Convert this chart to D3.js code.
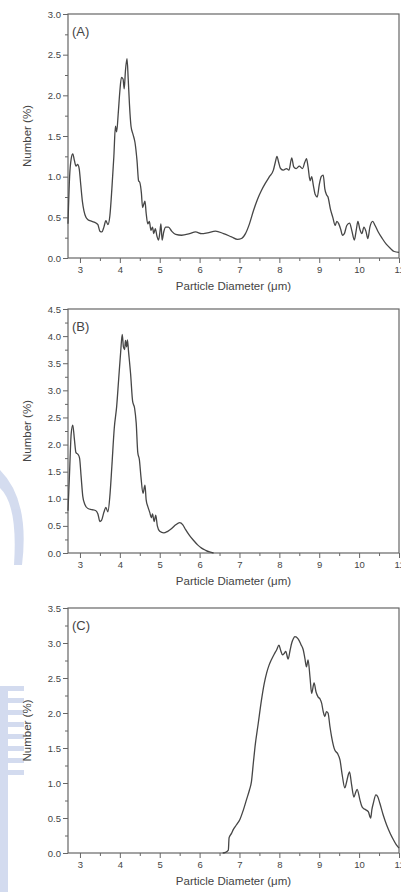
<!DOCTYPE html>
<html>
<head>
<meta charset="utf-8">
<script src="https://cdn.jsdelivr.net/npm/d3@7"></script>
<style>
  body { margin: 0; background: #fff; }
  svg { display: block; font-family: "Liberation Sans", Arial, sans-serif; }
</style>
</head>
<body>
<svg id="chart" width="401" height="892"></svg>
<script>
// particle size distributions: [diameter um, number %]
const seriesA = [[2.70,0.42],[2.74,1.0],[2.78,1.22],[2.82,1.28],[2.86,1.2],[2.90,1.13],[2.94,1.15],[2.98,1.1],[3.02,0.9],[3.06,0.7],[3.10,0.58],[3.15,0.5],[3.20,0.47],[3.30,0.45],[3.40,0.43],[3.45,0.41],[3.50,0.33],[3.55,0.32],[3.60,0.38],[3.65,0.46],[3.70,0.41],[3.75,0.52],[3.80,0.85],[3.85,1.25],[3.89,1.62],[3.92,1.55],[3.96,1.78],[4.00,2.05],[4.04,2.22],[4.08,2.2],[4.11,2.08],[4.14,2.3],[4.18,2.45],[4.21,2.2],[4.24,1.9],[4.28,1.62],[4.33,1.52],[4.38,1.42],[4.43,1.2],[4.47,0.95],[4.50,0.93],[4.54,0.8],[4.57,0.62],[4.60,0.66],[4.63,0.7],[4.66,0.55],[4.70,0.42],[4.74,0.45],[4.78,0.34],[4.82,0.38],[4.85,0.3],[4.89,0.36],[4.93,0.27],[4.97,0.22],[5.00,0.3],[5.03,0.42],[5.06,0.22],[5.10,0.32],[5.15,0.38],[5.22,0.38],[5.30,0.33],[5.40,0.29],[5.55,0.28],[5.75,0.3],[5.90,0.32],[6.05,0.3],[6.20,0.31],[6.40,0.33],[6.60,0.3],[6.80,0.26],[6.95,0.23],[7.05,0.24],[7.15,0.3],[7.25,0.42],[7.35,0.58],[7.45,0.72],[7.55,0.83],[7.65,0.92],[7.75,1.0],[7.85,1.08],[7.90,1.18],[7.94,1.25],[7.98,1.18],[8.03,1.1],[8.10,1.08],[8.18,1.1],[8.24,1.08],[8.31,1.23],[8.36,1.12],[8.42,1.1],[8.50,1.13],[8.58,1.1],[8.64,1.18],[8.68,1.22],[8.72,1.12],[8.77,0.95],[8.81,1.0],[8.85,0.9],[8.90,0.78],[8.95,0.75],[9.00,0.9],[9.05,1.0],[9.10,1.02],[9.14,0.85],[9.18,0.78],[9.22,0.75],[9.28,0.6],[9.34,0.5],[9.40,0.4],[9.44,0.45],[9.49,0.42],[9.54,0.35],[9.58,0.28],[9.63,0.3],[9.69,0.4],[9.76,0.43],[9.82,0.33],[9.88,0.22],[9.93,0.35],[9.97,0.45],[10.02,0.35],[10.07,0.3],[10.12,0.38],[10.17,0.33],[10.22,0.24],[10.27,0.38],[10.34,0.45],[10.40,0.4],[10.48,0.32],[10.58,0.24],[10.68,0.17],[10.78,0.12],[10.88,0.08],[11.0,0.07]];

const seriesB = [[2.70,0.78],[2.74,1.5],[2.78,2.2],[2.82,2.36],[2.86,2.1],[2.90,1.85],[2.95,1.82],[2.99,1.75],[3.03,1.4],[3.07,1.05],[3.12,0.9],[3.20,0.82],[3.30,0.8],[3.40,0.78],[3.45,0.72],[3.50,0.58],[3.54,0.6],[3.60,0.75],[3.65,0.84],[3.70,0.76],[3.75,1.05],[3.80,1.6],[3.86,2.3],[3.92,2.7],[3.97,3.2],[4.02,3.7],[4.06,4.03],[4.09,3.8],[4.12,3.75],[4.14,3.92],[4.17,3.8],[4.19,3.93],[4.22,3.7],[4.27,3.3],[4.32,2.8],[4.37,2.67],[4.41,2.4],[4.45,1.85],[4.49,1.72],[4.53,1.4],[4.58,1.1],[4.63,1.25],[4.66,0.98],[4.70,0.86],[4.75,0.75],[4.79,0.65],[4.82,0.72],[4.86,0.58],[4.90,0.7],[4.94,0.5],[5.00,0.4],[5.10,0.37],[5.20,0.4],[5.30,0.45],[5.40,0.52],[5.50,0.56],[5.58,0.52],[5.65,0.43],[5.75,0.32],[5.85,0.23],[5.95,0.15],[6.05,0.09],[6.15,0.05],[6.25,0.02],[6.35,0.0]];

const seriesC = [[6.58,0.0],[6.65,0.01],[6.72,0.04],[6.74,0.22],[6.80,0.28],[6.84,0.33],[6.92,0.4],[7.01,0.48],[7.10,0.62],[7.18,0.77],[7.25,0.9],[7.30,1.02],[7.35,1.3],[7.39,1.52],[7.47,1.85],[7.55,2.18],[7.62,2.42],[7.68,2.57],[7.74,2.68],[7.80,2.76],[7.87,2.84],[7.93,2.9],[7.99,2.97],[8.03,2.9],[8.08,2.83],[8.12,2.85],[8.16,2.88],[8.22,2.77],[8.27,2.9],[8.31,3.0],[8.35,3.06],[8.39,3.09],[8.47,3.06],[8.54,2.98],[8.60,2.9],[8.64,2.78],[8.68,2.66],[8.72,2.76],[8.77,2.5],[8.81,2.28],[8.87,2.43],[8.92,2.3],[8.97,2.23],[9.02,2.2],[9.06,2.14],[9.10,2.02],[9.14,1.95],[9.18,2.02],[9.22,2.0],[9.27,1.8],[9.31,1.66],[9.39,1.47],[9.46,1.42],[9.52,1.33],[9.58,1.1],[9.64,0.93],[9.68,1.0],[9.72,1.1],[9.76,1.16],[9.81,0.98],[9.87,0.8],[9.91,0.86],[9.95,0.91],[10.02,0.76],[10.06,0.68],[10.10,0.64],[10.16,0.62],[10.23,0.59],[10.29,0.5],[10.32,0.62],[10.36,0.72],[10.42,0.83],[10.47,0.8],[10.52,0.71],[10.60,0.55],[10.69,0.4],[10.78,0.28],[10.86,0.19],[10.93,0.12],[11.0,0.07]];

const panelLabels = ["(A)", "(B)", "(C)"];
const yMaxes = [3.0, 4.5, 3.5];
const xTicks = [3, 4, 5, 6, 7, 8, 9, 10, 11];
const xLabel = "Particle Diameter (\u03bcm)";
const yLabel = "Number (%)";

const svg = d3.select("#chart");
const textColor = "#444", axisColor = "#666", lineColor = "#464646";

// faint blue watermark on the left edge
const wm = svg.append("g").attr("fill", "#c5d0ea").attr("opacity", 0.75);
wm.append("path")
  .attr("d", "M0,470 Q30,500 22,565 L14,565 Q18,505 0,488 Z");
wm.append("rect").attr("x", 0).attr("y", 686).attr("width", 8).attr("height", 206);
d3.range(8).forEach(i => {
  wm.append("rect").attr("x", 0).attr("y", 686 + i * 12).attr("width", 24).attr("height", 5);
});

const x = d3.scaleLinear().domain([2.7, 11]).range([68, 399]);

const panels = [
  { label: panelLabels[0], yMax: yMaxes[0], data: seriesA, top: 14, bottom: 258 },
  { label: panelLabels[1], yMax: yMaxes[1], data: seriesB, top: 309, bottom: 553 },
  { label: panelLabels[2], yMax: yMaxes[2], data: seriesC, top: 608, bottom: 853 }
];

panels.forEach(p => {
  const y = d3.scaleLinear().domain([0, p.yMax]).range([p.bottom, p.top]);
  const g = svg.append("g");

  // minor ticks
  g.append("g")
    .attr("transform", `translate(0,${p.bottom})`)
    .call(d3.axisBottom(x).tickValues(d3.range(3.5, 11, 1)).tickSize(3).tickFormat(""))
    .call(a => a.select(".domain").remove())
    .call(a => a.selectAll("line").attr("stroke", axisColor));
  g.append("g")
    .attr("transform", `translate(68,0)`)
    .call(d3.axisLeft(y).tickValues(d3.range(0.25, p.yMax, 0.5)).tickSize(3).tickFormat(""))
    .call(a => a.select(".domain").remove())
    .call(a => a.selectAll("line").attr("stroke", axisColor));

  // major ticks
  g.append("g")
    .attr("transform", `translate(0,${p.bottom})`)
    .call(d3.axisBottom(x).tickValues(xTicks).tickSize(5).tickPadding(3).tickFormat(d3.format("d")))
    .call(a => a.select(".domain").remove())
    .call(a => a.selectAll("line").attr("stroke", axisColor))
    .call(a => a.selectAll("text").attr("fill", textColor).attr("font-size", 9.5).attr("font-family", null));
  g.append("g")
    .attr("transform", `translate(68,0)`)
    .call(d3.axisLeft(y).tickValues(d3.range(0, p.yMax + 0.01, 0.5)).tickSize(5).tickPadding(2).tickFormat(d3.format(".1f")))
    .call(a => a.select(".domain").remove())
    .call(a => a.selectAll("line").attr("stroke", axisColor))
    .call(a => a.selectAll("text").attr("fill", textColor).attr("font-size", 9.5).attr("font-family", null));

  // frame
  g.append("rect")
    .attr("x", x.range()[0]).attr("y", p.top)
    .attr("width", x.range()[1] - x.range()[0]).attr("height", p.bottom - p.top)
    .attr("fill", "none").attr("stroke", axisColor).attr("stroke-width", 1.2);

  // curve
  const line = d3.line().x(d => x(d[0])).y(d => y(d[1])).curve(d3.curveMonotoneX);
  g.append("path")
    .datum(p.data)
    .attr("d", line)
    .attr("fill", "none")
    .attr("stroke", lineColor)
    .attr("stroke-width", 1.3)
    .attr("stroke-linejoin", "round");

  // texts
  g.append("text")
    .attr("x", 72).attr("y", p.top + 22)
    .attr("font-size", 13).attr("fill", textColor)
    .text(p.label);
  g.append("text")
    .attr("x", (x.range()[0] + x.range()[1]) / 2).attr("y", p.bottom + 32)
    .attr("text-anchor", "middle").attr("font-size", 11.5).attr("fill", textColor)
    .text(xLabel);
  g.append("text")
    .attr("transform", `translate(31,${(p.top + p.bottom) / 2}) rotate(-90)`)
    .attr("text-anchor", "middle").attr("font-size", 11.5).attr("fill", textColor)
    .text(yLabel);
});
</script>
</body>
</html>
